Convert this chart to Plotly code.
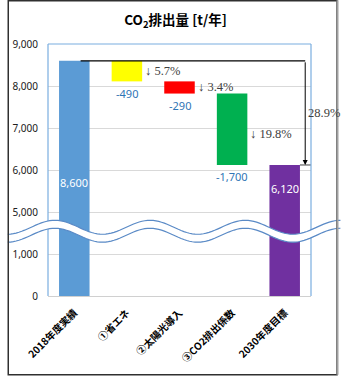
import numpy as np
import plotly.graph_objects as go

# ---- data ----
categories = ["2018年度実績", "①省エネ", "②太陽光導入", "③CO2排出係数", "2030年度目標"]
start_value = 8600
changes = [-490, -290, -1700]
end_value = 6120
change_pct = ["5.7%", "3.4%", "19.8%"]
total_pct = "28.9%"
tick_values = [0, 1000, 5000, 6000, 7000, 8000, 9000]
tick_labels = ["0", "1,000", "5,000", "6,000", "7,000", "8,000", "9,000"]
colors = ["#5b9bd5", "#ffff00", "#ff0000", "#00b050", "#7030a0"]

# broken axis: 1,000 .. 5,000 compressed
def t(v):
    return v if v < 5000 else v - 3000

# ---- layout geometry ----
W, H = 351, 377
L, R, T, B = 43, 311, 44, 297
def px2paper_x(X):
    return (X - L) / (R - L)
def px2paper_y(Y):
    return (B - Y) / (B - T)

# bars
bases, tops = [0], [start_value]
level = start_value
for c in changes:
    bases.append(level + c)
    tops.append(level)
    level += c
bases.append(0)
tops.append(end_value)

bw = 0.58
fig = go.Figure()
fig.add_trace(go.Bar(
    x=list(range(len(categories))),
    y=[t(tp) - t(b) for b, tp in zip(bases, tops)],
    base=[t(b) for b in bases],
    marker=dict(color=colors, line=dict(width=0)),
    width=bw,
    hoverinfo="skip",
))

ann = []
blue = "#2f75b5"
sans = "Noto Sans"
serif = "Liberation Serif"
# totals
ann.append(dict(x=0, y=t(start_value) / 2, yshift=-4, text=f"{start_value:,}",
                showarrow=False, font=dict(color="white", size=11, family=sans)))
ann.append(dict(x=4, y=t(end_value), yshift=-24, text=f"{end_value:,}",
                showarrow=False, font=dict(color="white", size=11, family=sans)))
# changes
for i, (c, p) in enumerate(zip(changes, change_pct), start=1):
    lo, hi = bases[i], tops[i]
    ann.append(dict(x=i, y=t(lo), yshift=-12, text=f"{c:,}", showarrow=False,
                    font=dict(color=blue, size=11, family=sans)))
    ann.append(dict(x=i + bw / 2 + 0.02, y=(t(lo) + t(hi)) / 2,
                    yshift=-5 if (hi - lo) > 1000 else 0, xanchor="left",
                    text=f"↓ {p}", showarrow=False,
                    font=dict(color="#404040", size=12.5, family=serif)))
# total arrow
xa = 4.39
ann.append(dict(x=xa, y=t(end_value), ax=xa, ay=t(start_value), axref="x", ayref="y",
                text="", showarrow=True, arrowhead=2, arrowsize=1, arrowwidth=1,
                arrowcolor="black", standoff=0, startstandoff=0))
ann.append(dict(x=xa + 0.02, y=(t(start_value) + t(end_value)) / 2, xanchor="left",
                text=total_pct, showarrow=False,
                font=dict(color="#404040", size=12.5, family=serif)))

shapes = []
shapes.append(dict(type="line", xref="x", yref="y", x0=0.12, x1=xa,
                   y0=t(start_value), y1=t(start_value),
                   line=dict(color="black", width=1.2), layer="above"))
shapes.append(dict(type="line", xref="x", yref="y", x0=4 + bw / 2, x1=4.52,
                   y0=t(end_value), y1=t(end_value),
                   line=dict(color="#808080", width=1.5), layer="above"))
# plot area border (blue) left/top/right
pb = "#7aaee0"
for (x0, y0, x1, y1) in [(0, 0, 0, 1), (0, 1, 1, 1), (1, 0, 1, 1)]:
    shapes.append(dict(type="line", xref="paper", yref="paper", x0=x0, y0=y0, x1=x1, y1=y1,
                       line=dict(color=pb, width=1.2), layer="above"))

# axis break wave
xs = np.linspace(2, 341, 120)
yu = 228 - 7 * np.cos(2 * np.pi * (xs - 50) / 97)
yl = yu + 8
def pathstr(px, py, close=False):
    pts = [f"{px2paper_x(a):.4f},{px2paper_y(b):.4f}" for a, b in zip(px, py)]
    s = "M" + " L".join(pts)
    return s + (" Z" if close else "")
shapes.append(dict(type="path", xref="paper", yref="paper",
                   path=pathstr(np.concatenate([xs, xs[::-1]]), np.concatenate([yu, yl[::-1]]), True),
                   fillcolor="white", line=dict(width=0), layer="above"))
wave_c = "#5a8ac6"
for yy in (yu, yl):
    shapes.append(dict(type="path", xref="paper", yref="paper", path=pathstr(xs, yy),
                       line=dict(color=wave_c, width=1.2), layer="above"))

# outer border
shapes.append(dict(type="rect", xref="paper", yref="paper",
                   x0=px2paper_x(2.5), x1=px2paper_x(337.5),
                   y0=px2paper_y(376), y1=px2paper_y(0.7),
                   line=dict(color="#303030", width=1.5), layer="above"))
shapes.append(dict(type="line", xref="paper", yref="paper",
                   x0=px2paper_x(338), x1=px2paper_x(338),
                   y0=px2paper_y(376), y1=px2paper_y(0),
                   line=dict(color="#a0a0a0", width=2), layer="above"))

fig.update_layout(
    width=W, height=H,
    margin=dict(l=L, r=W - R, t=T, b=H - B),
    paper_bgcolor="white", plot_bgcolor="white",
    showlegend=False,
    title=dict(text="<b>CO<sub>2</sub>排出量 [t/年]</b>", x=0.5, xanchor="center",
               y=1 - 20 / H, yanchor="middle",
               font=dict(family="Noto Sans CJK JP", size=13.5, color="black")),
    xaxis=dict(tickmode="array", tickvals=list(range(len(categories))),
               ticktext=[f"<b>{c}</b>" for c in categories],
               tickangle=-45, range=[-0.5, 4.5], ticklabelstandoff=6,
               tickfont=dict(family="Noto Sans CJK JP", size=10, color="black"),
               showline=True, linecolor="#d0d0d0", linewidth=1.2,
               showgrid=False, zeroline=False, fixedrange=True),
    yaxis=dict(tickmode="array", tickvals=[t(v) for v in tick_values], ticktext=tick_labels,
               range=[0, t(9000)], showgrid=True, gridcolor="#d9d9d9", gridwidth=1,
               zeroline=False, showline=False, ticklabelstandoff=9,
               tickfont=dict(family=sans, size=10, color="#202020"), fixedrange=True),
    annotations=ann, shapes=shapes,
)

fig.write_html("out.html")
